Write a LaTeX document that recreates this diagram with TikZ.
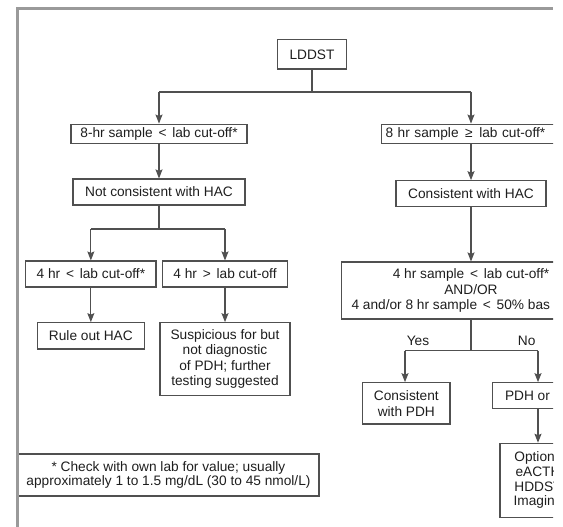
\documentclass[tikz,border=0pt]{standalone}
\usepackage{fontspec}
\setmainfont{Liberation Sans}
\usetikzlibrary{arrows.meta}
\definecolor{framec}{HTML}{9A9A9A}
\definecolor{boxc}{HTML}{505050}
\definecolor{txtc}{HTML}{1E1E1E}
\newcommand{\mylt}{\kern2pt<\kern2pt}
\newcommand{\mygt}{\kern2pt>\kern2pt}
\newcommand{\myge}{\kern2pt≥\kern2pt}
\begin{document}
\begin{tikzpicture}[x=1pt,y=-1pt,
  box/.style={draw=boxc, line width=1.1pt, inner sep=0pt, align=center, text=txtc,
              font=\fontsize{13.7}{15.5}\selectfont},
  lbl/.style={inner sep=0pt, text=txtc, font=\fontsize{13.7}{15.5}\selectfont},
  conn/.style={draw=boxc, line width=1.1pt},
  arr/.style={conn, -{Stealth[length=9pt,width=7pt,inset=1.5pt]}}]
\useasboundingbox (0,0) rectangle (563,527);
\clip (0,0) rectangle (553,527);

% nodes
\node[box, minimum width=69.5pt, minimum height=29.4pt] (lddst) at (312,54.3) {LDDST};
\node[box, minimum width=176pt, minimum height=19.4pt] (l1) at (159,133.8) {8-hr sample \mylt{} lab cut-off*};
\node[box, anchor=west, minimum height=19.4pt, text width=200pt, inner xsep=4pt, align=left] (r1) at (381,133.8) {8 hr sample \myge{} lab cut-off*};
\node[box, minimum width=172pt, minimum height=26pt] (l2) at (159,192) {Not consistent with HAC};
\node[box, minimum width=130.3pt, minimum height=26pt] (l3a) at (90.85,274) {4 hr \mylt{} lab cut-off*};
\node[box, minimum width=124.3pt, minimum height=26pt] (l3b) at (225,274) {4 hr \mygt{} lab cut-off};
\node[box, minimum width=106.6pt, minimum height=26.3pt] (l4a) at (90.85,335.85) {Rule out HAC};
\node[box, minimum width=130pt, minimum height=73pt] (l4b) at (225,359.2) {Suspicious for but\\not diagnostic\\of PDH; further\\testing suggested};
\node[box, minimum width=150pt, minimum height=26pt] (r2) at (471,193.7) {Consistent with HAC};
\node[box, minimum width=258.6pt, minimum height=57pt] (r3) at (471,290.5) {4 hr sample \mylt{} lab cut-off*\\AND/OR\\\makebox[239pt][l]{4 and/or 8 hr sample \mylt{} 50\% bas}};
\node[box, minimum width=87.3pt, minimum height=41.3pt] (r4a) at (406.35,403.35) {Consistent\\with PDH};
\node[box, minimum width=90.6pt, minimum height=25.6pt] (r4b) at (538,395.5) {\makebox[66pt][l]{PDH or}};
\node[box, minimum width=76pt, minimum height=74pt, font=\fontsize{13.7}{14.6}\selectfont] (r5) at (538,480.3) {Options\\eACTH\\HDDST\\Imaging};
\node[box, minimum width=301pt, minimum height=42pt, font=\fontsize{13.7}{14.3}\selectfont] (note) at (168.5,475) {* Check with own lab for value; usually\\approximately 1 to 1.5 mg/dL (30 to 45 nmol/L)};
\node[lbl] (yes) at (418,340.7) {Yes};
\node[lbl] (no) at (526.7,340.7) {No};

% junctions
\coordinate (j0) at (312,92);
\coordinate (jL0) at (159,92);
\coordinate (jR0) at (471,92);
\coordinate (j1) at (159,229);
\coordinate (jL1) at (90.85,229);
\coordinate (jR1) at (225,229);
\coordinate (j2) at (471,350.7);
\coordinate (jL2) at (405,350.7);
\coordinate (jR2) at (538,350.7);

% connectors
\draw[conn] (lddst) -- (j0);
\draw[conn] (jL0) -- (jR0);
\draw[arr] (jL0) -- (l1);
\draw[arr] (jR0) -- (jR0 |- r1.north);
\draw[arr] (l1) -- (l2);
\draw[conn] (l2) -- (j1);
\draw[conn] (jL1) -- (jR1);
\draw[arr] (jL1) -- (l3a);
\draw[arr] (jR1) -- (l3b);
\draw[arr] (l3a) -- (l4a);
\draw[arr] (l3b) -- (l4b);
\draw[arr] (r1.south -| r2) -- (r2);
\draw[arr] (r2) -- (r3);
\draw[conn] (r3) -- (j2);
\draw[conn] (jL2) -- (jR2);
\draw[arr] (jL2) -- (jL2 |- r4a.north);
\draw[arr] (jR2) -- (r4b);
\draw[arr] (r4b) -- (r5);

% outer frame
\draw[framec, line width=3pt] (17.5,527) -- (17.5,9) -- (553,9);
\end{tikzpicture}
\end{document}
